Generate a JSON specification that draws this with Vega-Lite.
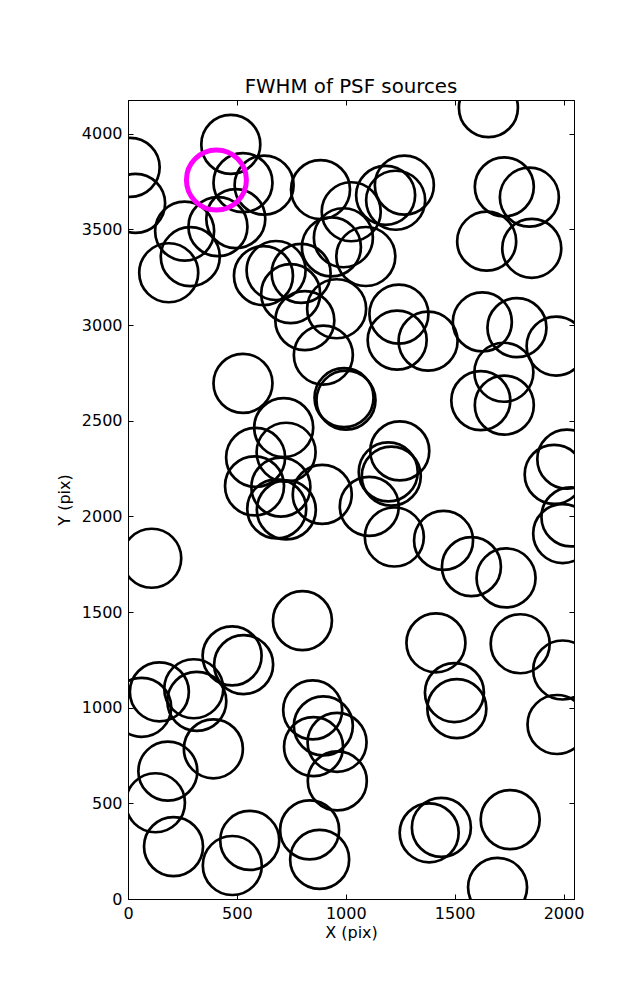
{
  "$schema": "https://vega.github.io/schema/vega-lite/v6.json",
  "width": 446,
  "height": 799,
  "autosize": "none",
  "padding": {"left": 128, "top": 100, "right": 63, "bottom": 101},
  "background": "white",
  "title": {"text": "FWHM of PSF sources", "font": "DejaVu Sans", "fontSize": 19.8, "fontWeight": "normal", "color": "black", "offset": -13, "baseline": "alphabetic"},
  "config": {
    "view": {"stroke": "black", "strokeWidth": 1},
    "axis": {"grid": false, "domainColor": "black", "tickColor": "black", "labelColor": "black", "titleColor": "black", "labelFont": "DejaVu Sans", "titleFont": "DejaVu Sans", "labelFontSize": 16, "titleFontSize": 16, "titleFontWeight": "normal", "tickSize": -5, "labelPadding": 11, "format": "d", "labelFlush": false, "labelOverlap": false}
  },
  "data": {"values": [
    {"x": 10, "y": 3824, "k": "src"}, {"x": 35, "y": 3636, "k": "src"}, {"x": 472, "y": 3944, "k": "src"}, {"x": 528, "y": 3744, "k": "src"}, {"x": 625, "y": 3731, "k": "src"},
    {"x": 260, "y": 3491, "k": "src"}, {"x": 286, "y": 3357, "k": "src"}, {"x": 187, "y": 3273, "k": "src"}, {"x": 413, "y": 3514, "k": "src"}, {"x": 495, "y": 3556, "k": "src"},
    {"x": 884, "y": 3708, "k": "src"}, {"x": 1025, "y": 3592, "k": "src"}, {"x": 989, "y": 3456, "k": "src"}, {"x": 934, "y": 3408, "k": "src"}, {"x": 1092, "y": 3358, "k": "src"},
    {"x": 1183, "y": 3678, "k": "src"}, {"x": 1229, "y": 3652, "k": "src"}, {"x": 1269, "y": 3731, "k": "src"}, {"x": 622, "y": 3258, "k": "src"}, {"x": 680, "y": 3285, "k": "src"},
    {"x": 795, "y": 3270, "k": "src"}, {"x": 747, "y": 3164, "k": "src"}, {"x": 812, "y": 3023, "k": "src"}, {"x": 958, "y": 3085, "k": "src"}, {"x": 897, "y": 2843, "k": "src"},
    {"x": 1244, "y": 3057, "k": "src"}, {"x": 1236, "y": 2921, "k": "src"}, {"x": 1378, "y": 2916, "k": "src"},
    {"x": 1655, "y": 4136, "k": "src"}, {"x": 1728, "y": 3722, "k": "src"}, {"x": 1843, "y": 3668, "k": "src"}, {"x": 1647, "y": 3438, "k": "src"}, {"x": 1854, "y": 3401, "k": "src"},
    {"x": 1627, "y": 3016, "k": "src"}, {"x": 1786, "y": 2986, "k": "src"}, {"x": 1966, "y": 2890, "k": "src"}, {"x": 1726, "y": 2753, "k": "src"}, {"x": 1620, "y": 2605, "k": "src"}, {"x": 1728, "y": 2581, "k": "src"},
    {"x": 528, "y": 2695, "k": "src"}, {"x": 992, "y": 2620, "k": "src"}, {"x": 1001, "y": 2607, "k": "src"}, {"x": 715, "y": 2464, "k": "src"}, {"x": 586, "y": 2308, "k": "src"},
    {"x": 726, "y": 2335, "k": "src"}, {"x": 581, "y": 2159, "k": "src"}, {"x": 702, "y": 2153, "k": "src"}, {"x": 683, "y": 2039, "k": "src"}, {"x": 727, "y": 2034, "k": "src"},
    {"x": 892, "y": 2115, "k": "src"}, {"x": 1108, "y": 2052, "k": "src"}, {"x": 1248, "y": 2342, "k": "src"}, {"x": 1195, "y": 2232, "k": "src"}, {"x": 1209, "y": 2210, "k": "src"},
    {"x": 1223, "y": 1892, "k": "src"}, {"x": 1449, "y": 1874, "k": "src"}, {"x": 1577, "y": 1737, "k": "src"}, {"x": 1736, "y": 1678, "k": "src"}, {"x": 2015, "y": 2299, "k": "src"},
    {"x": 1957, "y": 2219, "k": "src"}, {"x": 2034, "y": 1997, "k": "src"}, {"x": 1996, "y": 1910, "k": "src"}, {"x": 109, "y": 1781, "k": "src"},
    {"x": 801, "y": 1455, "k": "src"}, {"x": 478, "y": 1271, "k": "src"}, {"x": 531, "y": 1225, "k": "src"}, {"x": 144, "y": 1083, "k": "src"}, {"x": 63, "y": 1002, "k": "src"},
    {"x": 302, "y": 1099, "k": "src"}, {"x": 316, "y": 1033, "k": "src"}, {"x": 392, "y": 785, "k": "src"}, {"x": 183, "y": 668, "k": "src"}, {"x": 126, "y": 503, "k": "src"},
    {"x": 209, "y": 274, "k": "src"}, {"x": 479, "y": 175, "k": "src"}, {"x": 559, "y": 306, "k": "src"}, {"x": 848, "y": 988, "k": "src"}, {"x": 897, "y": 905, "k": "src"},
    {"x": 960, "y": 819, "k": "src"}, {"x": 852, "y": 796, "k": "src"}, {"x": 961, "y": 617, "k": "src"}, {"x": 834, "y": 361, "k": "src"}, {"x": 880, "y": 207, "k": "src"},
    {"x": 1414, "y": 1339, "k": "src"}, {"x": 1499, "y": 1079, "k": "src"}, {"x": 1510, "y": 995, "k": "src"}, {"x": 1801, "y": 1334, "k": "src"}, {"x": 1996, "y": 1197, "k": "src"},
    {"x": 1970, "y": 912, "k": "src"}, {"x": 1383, "y": 346, "k": "src"}, {"x": 1439, "y": 374, "k": "src"}, {"x": 1755, "y": 415, "k": "src"}, {"x": 1697, "y": 61, "k": "src"},
    {"x": 406, "y": 3758, "k": "sel"}
  ]},
  "layer": [
    {
      "transform": [{"filter": "datum.k === 'src'"}],
      "mark": {"type": "point", "shape": "circle", "filled": false, "stroke": "black", "strokeWidth": 2.7, "opacity": 1, "size": 3481, "clip": true},
      "encoding": {
        "x": {"field": "x", "type": "quantitative", "scale": {"domain": [0, 2048], "nice": false, "zero": false}, "axis": {"orient": "bottom", "values": [0, 500, 1000, 1500, 2000], "title": "X (pix)", "titlePadding": 3}},
        "y": {"field": "y", "type": "quantitative", "scale": {"domain": [0, 4176], "nice": false, "zero": false}, "axis": {"orient": "left", "values": [0, 500, 1000, 1500, 2000, 2500, 3000, 3500, 4000], "title": "Y (pix)", "titlePadding": 9}}
      }
    },
    {
      "transform": [{"filter": "datum.k === 'sel'"}],
      "mark": {"type": "point", "shape": "circle", "filled": false, "stroke": "#ff00ff", "strokeWidth": 5, "opacity": 1, "size": 3600, "clip": true},
      "encoding": {
        "x": {"field": "x", "type": "quantitative", "scale": {"domain": [0, 2048], "nice": false, "zero": false}, "axis": {"orient": "top", "values": [0, 500, 1000, 1500, 2000], "labels": false, "title": null}},
        "y": {"field": "y", "type": "quantitative", "scale": {"domain": [0, 4176], "nice": false, "zero": false}, "axis": {"orient": "right", "values": [0, 500, 1000, 1500, 2000, 2500, 3000, 3500, 4000], "labels": false, "title": null}}
      }
    }
  ],
  "resolve": {"axis": {"x": "independent", "y": "independent"}}
}
